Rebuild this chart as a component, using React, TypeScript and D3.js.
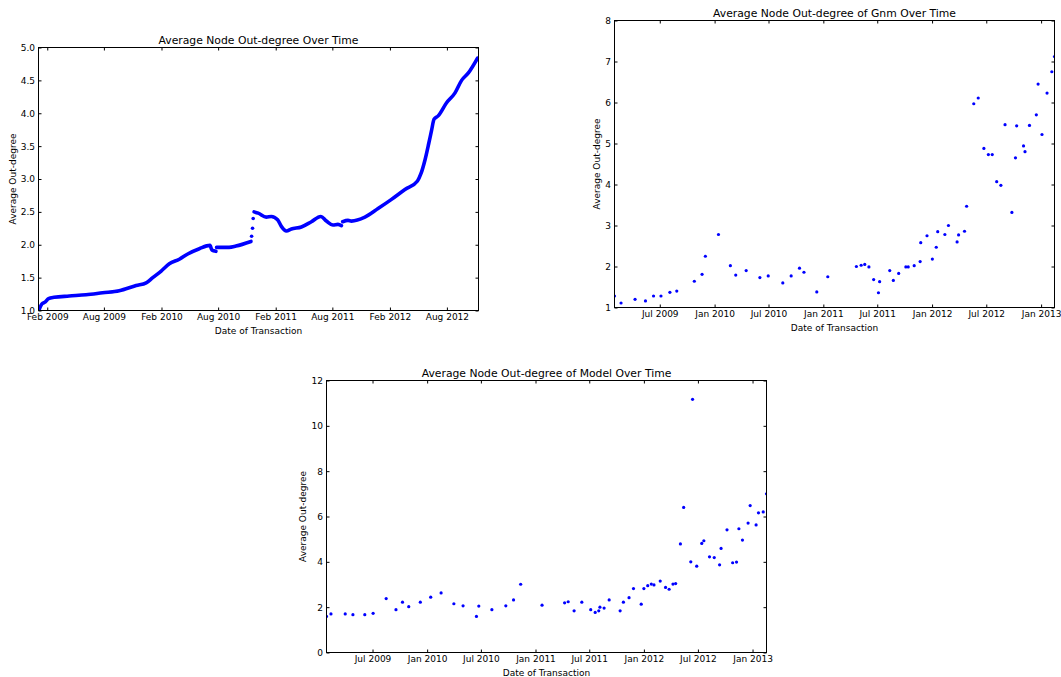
import React, { useEffect, useRef } from 'react';
import * as d3 from 'd3';

// Whole network: average out-degree (dense daily samples, read at the turning points)
const overallDates = [
  '2009-01-06', '2009-01-15', '2009-01-26', '2009-02-05', '2009-02-23', '2009-04-12',
  '2009-06-05', '2009-07-28', '2009-09-19', '2009-11-12', '2009-12-14', '2010-01-04',
  '2010-01-31', '2010-02-26', '2010-03-30', '2010-04-26', '2010-06-02', '2010-07-06',
  '2010-07-12', '2010-07-25', '2010-07-27', '2010-09-05', '2010-09-27', '2010-11-14',
  '2010-11-16', '2010-11-19', '2010-11-21', '2010-11-24', '2010-12-07', '2011-01-02',
  '2011-01-18', '2011-02-07', '2011-02-19', '2011-03-07', '2011-03-23', '2011-04-24',
  '2011-05-26', '2011-06-25', '2011-07-13', '2011-08-03', '2011-08-19', '2011-08-30',
  '2011-09-03', '2011-09-20', '2011-10-01', '2011-11-13', '2011-12-25', '2012-02-06',
  '2012-03-20', '2012-04-29', '2012-05-10', '2012-05-23', '2012-06-04', '2012-06-13',
  '2012-06-21', '2012-07-04', '2012-07-31', '2012-08-27', '2012-09-17', '2012-10-08',
  '2012-11-07',
];
const overallDegree = [
  1.01, 1.10, 1.13, 1.18, 1.20, 1.22,
  1.24, 1.27, 1.30, 1.38, 1.42, 1.50,
  1.60, 1.71, 1.78, 1.86, 1.94, 1.99,
  1.92, 1.90, 1.96, 1.96, 1.98, 2.05,
  2.13, 2.25, 2.40, 2.50, 2.48, 2.42,
  2.43, 2.38, 2.28, 2.21, 2.24, 2.27,
  2.35, 2.43, 2.36, 2.30, 2.31, 2.29,
  2.35, 2.37, 2.36, 2.42, 2.55, 2.69,
  2.84, 2.97, 3.08, 3.29, 3.54, 3.74,
  3.91, 3.96, 4.16, 4.31, 4.50, 4.61,
  4.84,
];
// where the dotted trace visibly restarts, and the few isolated dots of the Nov 2010 jump
const overallBreaks = ['2010-07-27', '2010-11-24', '2011-09-03'];
const overallLoose = ['2010-11-16', '2010-11-19', '2010-11-21'];

// Gnm random graph
const gnmDates = [
  '2009-01-30', '2009-02-21', '2009-04-09', '2009-05-14', '2009-06-10', '2009-07-05',
  '2009-08-04', '2009-08-27', '2009-10-25', '2009-11-20', '2009-12-01', '2010-01-14',
  '2010-02-23', '2010-03-13', '2010-04-17', '2010-06-02', '2010-06-30', '2010-08-18',
  '2010-09-15', '2010-10-13', '2010-10-28', '2010-12-10', '2011-01-16', '2011-04-22',
  '2011-05-08', '2011-05-20', '2011-06-03', '2011-06-19', '2011-07-05', '2011-07-09',
  '2011-08-12', '2011-08-24', '2011-09-11', '2011-10-05', '2011-10-13', '2011-11-02',
  '2011-11-22', '2011-11-24', '2011-12-15', '2012-01-02', '2012-01-15', '2012-01-20',
  '2012-02-13', '2012-02-25', '2012-03-25', '2012-03-30', '2012-04-19', '2012-04-26',
  '2012-05-20', '2012-06-04', '2012-06-23', '2012-07-08', '2012-07-21', '2012-08-05',
  '2012-08-19', '2012-09-02', '2012-09-25', '2012-10-07', '2012-10-11', '2012-11-03',
  '2012-11-08', '2012-11-23', '2012-12-16', '2012-12-22', '2013-01-04', '2013-01-21',
  '2013-02-06', '2013-02-15',
];
const gnmDegree = [
  1.28, 1.11, 1.20, 1.16, 1.28, 1.28,
  1.37, 1.40, 1.64, 1.81, 2.25, 2.78,
  2.02, 1.79, 1.90, 1.73, 1.77, 1.60,
  1.77, 1.96, 1.86, 1.38, 1.75, 2.00,
  2.03, 2.05, 1.99, 1.68, 1.36, 1.63,
  1.90, 1.66, 1.83, 1.99, 1.99, 2.02,
  2.12, 2.58, 2.75, 2.18, 2.47, 2.85,
  2.78, 3.00, 2.60, 2.77, 2.86, 3.47,
  5.97, 6.11, 4.88, 4.73, 4.73, 4.07,
  3.98, 5.46, 3.32, 4.65, 5.43, 4.94,
  4.80, 5.44, 5.70, 6.45, 5.22, 6.23,
  6.75, 7.12,
];

// Model graph
const modelDates = [
  '2009-01-27', '2009-02-11', '2009-03-31', '2009-04-26', '2009-06-05', '2009-07-03',
  '2009-08-16', '2009-09-18', '2009-10-10', '2009-10-31', '2009-12-09', '2010-01-13',
  '2010-02-17', '2010-04-01', '2010-05-02', '2010-06-16', '2010-06-24', '2010-08-07',
  '2010-09-23', '2010-10-19', '2010-11-12', '2011-01-23', '2011-04-09', '2011-04-21',
  '2011-05-11', '2011-06-06', '2011-07-06', '2011-07-21', '2011-08-02', '2011-08-06',
  '2011-08-20', '2011-09-06', '2011-10-13', '2011-10-24', '2011-11-12', '2011-11-27',
  '2011-12-23', '2012-01-01', '2012-01-14', '2012-01-26', '2012-02-04', '2012-02-25',
  '2012-03-14', '2012-03-26', '2012-04-08', '2012-04-17', '2012-05-03', '2012-05-14',
  '2012-06-07', '2012-06-13', '2012-06-27', '2012-07-14', '2012-07-21', '2012-08-09',
  '2012-08-25', '2012-09-12', '2012-09-17', '2012-10-07', '2012-10-26', '2012-11-08',
  '2012-11-16', '2012-11-28', '2012-12-17', '2012-12-24', '2013-01-13', '2013-01-21',
  '2013-02-06', '2013-02-17',
];
const modelDegree = [
  1.59, 1.70, 1.70, 1.67, 1.67, 1.73,
  2.38, 1.89, 2.22, 2.02, 2.22, 2.44,
  2.63, 2.15, 2.06, 1.59, 2.05, 1.89,
  2.06, 2.32, 3.01, 2.09, 2.19, 2.24,
  1.84, 2.22, 1.89, 1.77, 1.84, 2.00,
  1.96, 2.32, 1.84, 2.22, 2.42, 2.82,
  2.13, 2.82, 2.95, 3.02, 2.98, 3.15,
  2.87, 2.79, 3.02, 3.04, 4.79, 6.40,
  4.00, 11.17, 3.81, 4.81, 4.93, 4.22,
  4.19, 3.87, 4.59, 5.41, 3.96, 3.99,
  5.46, 4.96, 5.71, 6.48, 5.63, 6.16,
  6.20, 7.00,
];

// axis extents and ticks
const overallExtent = ['2009-01-04', '2012-11-10'];
const gnmExtent = ['2009-01-30', '2013-02-15'];
const modelExtent = ['2009-01-27', '2013-02-17'];
const halfYearTicksFeb = [
  '2009-02-01', '2009-08-01', '2010-02-01', '2010-08-01',
  '2011-02-01', '2011-08-01', '2012-02-01', '2012-08-01',
];
const halfYearTicksJul = [
  '2009-07-01', '2010-01-01', '2010-07-01', '2011-01-01',
  '2011-07-01', '2012-01-01', '2012-07-01', '2013-01-01',
];
const overallYTicks = [1.0, 1.5, 2.0, 2.5, 3.0, 3.5, 4.0, 4.5, 5.0];
const gnmYTicks = [1, 2, 3, 4, 5, 6, 7, 8];
const modelYTicks = [0, 2, 4, 6, 8, 10, 12];

const parse = d3.timeParse('%Y-%m-%d');
const FONT = '"DejaVu Sans", Verdana, sans-serif';
const BLUE = '#0000ff';

function drawPanel(root, p) {
  const g = root.append('g');

  const x = d3.scaleTime().domain(p.xDomain.map(parse)).range([p.x0, p.x1]);
  const y = d3.scaleLinear().domain(p.yDomain).range([p.y1, p.y0]);

  // clip marks to the axes box, like matplotlib does
  const clipId = `clip-${p.id}`;
  g.append('clipPath').attr('id', clipId)
    .append('rect')
    .attr('x', p.x0).attr('y', p.y0)
    .attr('width', p.x1 - p.x0).attr('height', p.y1 - p.y0);
  const plot = g.append('g').attr('clip-path', `url(#${clipId})`);
  p.draw(plot, x, y);

  const ticks = p.xTicks.map(parse);
  const styleAxis = (sel) => {
    sel.attr('font-family', FONT).attr('font-size', 9);
    sel.select('.domain').remove();
    sel.selectAll('line').attr('stroke', '#000');
    sel.selectAll('text').attr('fill', '#000');
  };

  g.append('g')
    .attr('transform', `translate(0,${p.y1})`)
    .call(d3.axisBottom(x).tickValues(ticks).tickFormat(d3.timeFormat('%b %Y'))
      .tickSizeInner(-3).tickSizeOuter(0).tickPadding(3.5))
    .call(styleAxis);
  g.append('g')
    .attr('transform', `translate(0,${p.y0})`)
    .call(d3.axisTop(x).tickValues(ticks).tickFormat(() => '')
      .tickSizeInner(-3).tickSizeOuter(0))
    .call(styleAxis);
  g.append('g')
    .attr('transform', `translate(${p.x0},0)`)
    .call(d3.axisLeft(y).tickValues(p.yTicks).tickFormat(d3.format(p.yFormat))
      .tickSizeInner(-3).tickSizeOuter(0).tickPadding(3.5))
    .call(styleAxis);
  g.append('g')
    .attr('transform', `translate(${p.x1},0)`)
    .call(d3.axisRight(y).tickValues(p.yTicks).tickFormat(() => '')
      .tickSizeInner(-3).tickSizeOuter(0))
    .call(styleAxis);

  // frame
  g.append('rect')
    .attr('x', p.x0).attr('y', p.y0)
    .attr('width', p.x1 - p.x0).attr('height', p.y1 - p.y0)
    .attr('fill', 'none').attr('stroke', '#000').attr('stroke-width', 1);

  // title and axis labels
  g.append('text')
    .attr('x', (p.x0 + p.x1) / 2).attr('y', p.y0 - 4)
    .attr('text-anchor', 'middle')
    .attr('font-family', FONT).attr('font-size', 10.8)
    .text(p.title);
  g.append('text')
    .attr('x', (p.x0 + p.x1) / 2).attr('y', p.y1 + 23)
    .attr('text-anchor', 'middle')
    .attr('font-family', FONT).attr('font-size', 9)
    .text('Date of Transaction');
  g.append('text')
    .attr('transform', `translate(${p.x0 - p.yLabelGap},${(p.y0 + p.y1) / 2}) rotate(-90)`)
    .attr('text-anchor', 'middle')
    .attr('font-family', FONT).attr('font-size', 9)
    .text('Average Out-degree');
}

function drawDots(dates, values) {
  return (plot, x, y) => {
    plot.selectAll('circle')
      .data(dates.map((d, i) => [parse(d), values[i]]))
      .join('circle')
      .attr('cx', d => x(d[0]))
      .attr('cy', d => y(d[1]))
      .attr('r', 1.6)
      .attr('fill', BLUE);
  };
}

function drawTrace(plot, x, y) {
  // split the dense trace into the runs that look continuous in the original
  const breaks = new Set(overallBreaks);
  const loose = new Set(overallLoose);
  const runs = [];
  const dots = [];
  let run = [];
  overallDates.forEach((d, i) => {
    const pt = [parse(d), overallDegree[i]];
    if (loose.has(d)) {
      dots.push(pt);
      return;
    }
    if (breaks.has(d) && run.length) {
      runs.push(run);
      run = [];
    }
    run.push(pt);
  });
  if (run.length) runs.push(run);

  const line = d3.line()
    .x(d => x(d[0]))
    .y(d => y(d[1]))
    .curve(d3.curveMonotoneX);

  plot.selectAll('path.run')
    .data(runs)
    .join('path')
    .attr('class', 'run')
    .attr('d', line)
    .attr('fill', 'none')
    .attr('stroke', BLUE)
    .attr('stroke-width', 3.6)
    .attr('stroke-linecap', 'round')
    .attr('stroke-linejoin', 'round');

  plot.selectAll('circle')
    .data(dots)
    .join('circle')
    .attr('cx', d => x(d[0]))
    .attr('cy', d => y(d[1]))
    .attr('r', 1.8)
    .attr('fill', BLUE);
}

export default function App() {
  const svgRef = useRef(null);

  useEffect(() => {
    const svg = d3.select(svgRef.current);
    svg.selectAll('*').remove();

    drawPanel(svg, {
      id: 'overall',
      x0: 38.5, x1: 478.5, y0: 47.5, y1: 310.5,
      xDomain: overallExtent, yDomain: [1, 5],
      xTicks: halfYearTicksFeb, yTicks: overallYTicks, yFormat: '.1f',
      yLabelGap: 23,
      title: 'Average Node Out-degree Over Time',
      draw: drawTrace,
    });

    drawPanel(svg, {
      id: 'gnm',
      x0: 614.5, x1: 1054.5, y0: 20.5, y1: 307.5,
      xDomain: gnmExtent, yDomain: [1, 8],
      xTicks: halfYearTicksJul, yTicks: gnmYTicks, yFormat: 'd',
      yLabelGap: 14.5,
      title: 'Average Node Out-degree of Gnm Over Time',
      draw: drawDots(gnmDates, gnmDegree),
    });

    drawPanel(svg, {
      id: 'model',
      x0: 326.5, x1: 766.5, y0: 380.5, y1: 652.5,
      xDomain: modelExtent, yDomain: [0, 12],
      xTicks: halfYearTicksJul, yTicks: modelYTicks, yFormat: 'd',
      yLabelGap: 20.2,
      title: 'Average Node Out-degree of Model Over Time',
      draw: drawDots(modelDates, modelDegree),
    });
  }, []);

  return (
    <svg
      ref={svgRef}
      width={1061}
      height={677}
      style={{ position: 'absolute', left: 0, top: 0, background: '#fff' }}
    />
  );
}
